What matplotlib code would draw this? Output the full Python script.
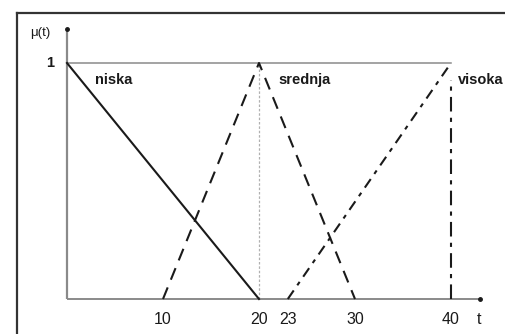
import matplotlib
matplotlib.use("Agg")
import matplotlib.pyplot as plt
from matplotlib.lines import Line2D

# Fuzzy membership functions for temperature t
niska_t = [0, 20]
niska_mu = [1, 0]
srednja_t = [10, 20, 30]
srednja_mu = [0, 1, 0]
visoka_t = [23, 40]
visoka_mu = [0, 1]

xtick_vals = [10, 20, 23, 30, 40]
xtick_labels = ["10", "20", "23", "30", "40"]
set_labels = ["niska", "srednja", "visoka"]
set_label_t = [2.9, 22.0, 40.7]

W, H = 506, 334
fig = plt.figure(figsize=(W / 100, H / 100), dpi=100)
ax = fig.add_axes([0, 0, 1, 1])

# pixel mapping: t=0 -> x=67, 9.6 px per unit; mu=0 -> y=299, mu=1 -> y=63
x0, sx = 67, 9.6
y0, y1 = 299, 63
sy = y0 - y1
ax.set_xlim(-x0 / sx, (W - x0) / sx)
ax.set_ylim(-(H - y0) / sy, y0 / sy)
ax.axis("off")

gray = "#8a8a8a"
dark = "#1a1a1a"

# outer frame (left and top edges)
fig.add_artist(Line2D([17 / W, 17 / W], [0, 1 - 13 / H], transform=fig.transFigure,
                      color="#333333", lw=1.6))
fig.add_artist(Line2D([17 / W, 1.0], [1 - 13 / H, 1 - 13 / H], transform=fig.transFigure,
                      color="#333333", lw=1.6))

# axes
ax.plot([0, 0], [0, (y0 - 30) / sy], color=gray, lw=1.6, solid_capstyle="butt")
ax.plot([0, (480 - x0) / sx], [0, 0], color=gray, lw=1.4, solid_capstyle="butt")
ax.plot([0], [(y0 - 29) / sy], marker="o", ms=2.5, color=dark)
ax.plot([(480 - x0) / sx], [0], marker="o", ms=2.5, color=dark)

# reference lines
ax.plot([0, 40], [1, 1], color=gray, lw=1.1)
ax.plot([20, 20], [0, 1], color="#b0b0b0", lw=0.9, ls=(0, (2, 1.5)))

# membership functions
ax.plot(niska_t, niska_mu, color=dark, lw=1.5)
ax.plot(srednja_t, srednja_mu, color=dark, lw=1.5, ls=(0, (6, 4)))
ax.plot(visoka_t, visoka_mu, color=dark, lw=1.5, ls=(0, (5, 3, 2, 3)))
ax.plot([40, 40], [0, 0.93], color=dark, lw=1.5, ls=(0, (7, 3, 2, 3)))

# tick labels
for v, lab in zip(xtick_vals, xtick_labels):
    ax.text(v, -20 / sy, lab, ha="center", va="center", fontsize=11.5,
            family="Liberation Sans", color=dark)
ax.text((479 - x0) / sx, -20 / sy, "t", ha="center", va="center", fontsize=11.5,
        family="Liberation Sans", color=dark)
ax.text(-17 / sx, 1, "1", ha="center", va="center", fontsize=10.5,
        family="Liberation Sans", weight="bold", color=dark)
ax.text(-27 / sx, (y0 - 33) / sy, "μ(t)", ha="center", va="center", fontsize=9.5,
        family="Liberation Sans", color=dark)

# set names
for tx, lab in zip(set_label_t, set_labels):
    ax.text(tx, 1 - 17 / sy, lab, ha="left", va="center", fontsize=10.5,
            family="Liberation Sans", weight="bold", color=dark)

fig.savefig("out.png", dpi=100)
